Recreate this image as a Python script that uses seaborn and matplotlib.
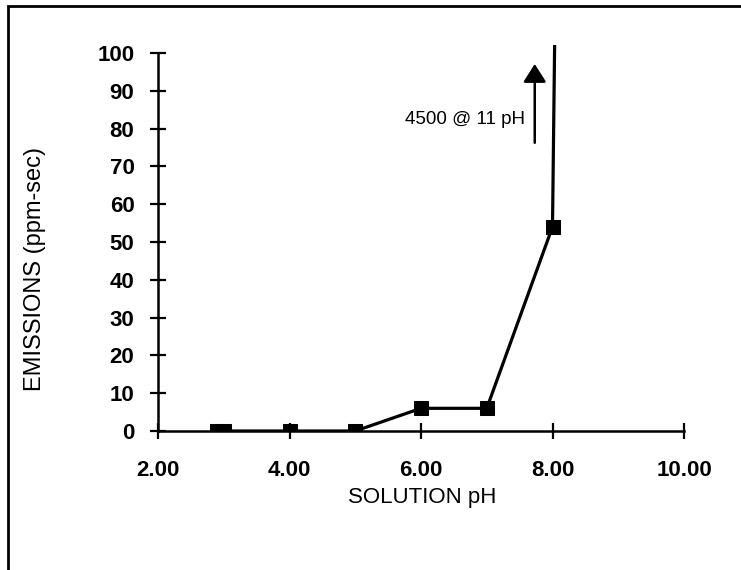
import matplotlib
matplotlib.use("Agg")
import matplotlib.pyplot as plt
import seaborn as sns
import pandas as pd
from matplotlib.patches import Rectangle

sns.set_style("white")
plt.rcParams['font.family'] = ['Liberation Sans', 'DejaVu Sans']

ph = [2.9, 3.0, 4.0, 5.0, 6.0, 7.0, 8.0, 11.0]
emissions = [0, 0, 0, 0, 6, 6, 54, 4500]
x_ticks = [2, 4, 6, 8, 10]
x_tick_labels = ["2.00", "4.00", "6.00", "8.00", "10.00"]
y_ticks = list(range(0, 101, 10))
note = "4500 @ 11 pH"

df = pd.DataFrame({"ph": ph, "emissions": emissions})

fig = plt.figure(figsize=(7.41, 5.70), dpi=100)
W, H = 741, 570
left, right = 158 / W, 684 / W
bottom, top = 1 - 431 / H, 1 - 45 / H
ax = fig.add_axes([left, bottom, right - left, top - bottom])

sns.lineplot(data=df, x="ph", y="emissions", ax=ax, color="black",
             linewidth=2.3, marker="s", markersize=10, markeredgecolor="black",
             sort=False, estimator=None)

ax.set_xlim(2, 10)
ax.set_ylim(0, 102.1)
ax.set_xticks(x_ticks)
ax.set_xticklabels(x_tick_labels)
ax.set_yticks(y_ticks)
ax.set_xlabel("")
ax.set_ylabel("")

for s in ["top", "right"]:
    ax.spines[s].set_visible(False)
for s in ["left", "bottom"]:
    ax.spines[s].set_color("black")
    ax.spines[s].set_linewidth(1.8)
ax.spines["left"].set_bounds(0, 100)

ax.tick_params(axis="y", left=True, direction="inout", length=12, width=1.6,
               pad=11, labelsize=16, colors="black")
ax.tick_params(axis="x", bottom=True, direction="inout", length=12, width=1.6,
               pad=15, labelsize=16, colors="black")
for lab in ax.get_xticklabels() + ax.get_yticklabels():
    lab.set_fontweight("bold")

ax.annotate("", xy=(7.73, 97.8), xytext=(7.73, 75.5),
            arrowprops=dict(arrowstyle="-|>,head_length=1.1,head_width=0.7",
                            color="black", lw=1.8))
ax.text(7.58, 82.5, note, ha="right", va="center", fontsize=13.5,
        color="black")

fig.text(35 / W, 1 - 269 / H, "EMISSIONS (ppm-sec)", rotation=90,
         ha="center", va="center", fontsize=17, color="black")
fig.text(422 / W, 1 - 498 / H, "SOLUTION pH", ha="center", va="center",
         fontsize=16, color="black")

fig.patches.append(Rectangle((8 / W, -0.1), 1.2, 1 - 6 / H + 0.1,
                             transform=fig.transFigure, fill=False,
                             edgecolor="black", linewidth=2))

fig.savefig("out.png", dpi=100)
